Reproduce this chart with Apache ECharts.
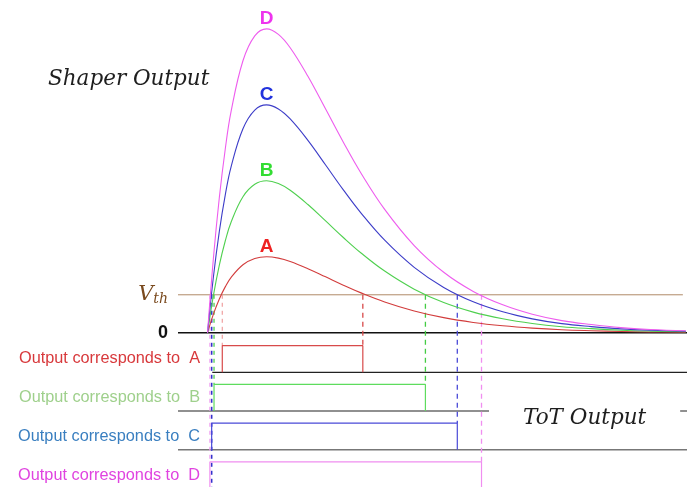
<!DOCTYPE html>
<html>
<head>
<meta charset="utf-8">
<script src="https://cdn.jsdelivr.net/npm/echarts@6/dist/echarts.min.js"></script>
<style>
  html, body { margin: 0; background: #fff; }
  #chart { width: 687px; height: 487px; }
</style>
</head>
<body>
<div id="chart"></div>
<script>
// shaper output, time in ns, amplitude in units of pulse A peak
const times = [0, 1, 2, 3, 4, 6, 8, 10, 12, 14, 17, 20, 23, 26, 30, 35, 40, 45, 50, 55, 60, 65, 70, 75, 81];
const shaperA = [0, 0.246, 0.445, 0.604, 0.729, 0.895, 0.977, 1.000, 0.982, 0.938, 0.844, 0.736, 0.627, 0.525, 0.406, 0.287, 0.199, 0.136, 0.092, 0.061, 0.040, 0.027, 0.017, 0.011, 0.007];
const shaperB = [0, 0.492, 0.890, 1.208, 1.458, 1.790, 1.954, 2.000, 1.964, 1.876, 1.688, 1.472, 1.254, 1.050, 0.812, 0.574, 0.398, 0.272, 0.184, 0.122, 0.080, 0.054, 0.034, 0.022, 0.013];
const shaperC = [0, 0.738, 1.335, 1.812, 2.187, 2.685, 2.931, 3.000, 2.946, 2.814, 2.532, 2.208, 1.881, 1.575, 1.218, 0.861, 0.597, 0.408, 0.276, 0.183, 0.120, 0.081, 0.051, 0.033, 0.020];
const shaperD = [0, 0.984, 1.780, 2.416, 2.916, 3.580, 3.908, 4.000, 3.928, 3.752, 3.376, 2.944, 2.508, 2.100, 1.624, 1.148, 0.796, 0.544, 0.368, 0.244, 0.160, 0.108, 0.068, 0.044, 0.027];
const shaperNames = ['A', 'B', 'C', 'D'];
const threshold = 0.5;

// ToT output: threshold crossings and the level of each digital row
const totRise = [2.5, 1.1, 0.7, 0.4];
const totFall = [26.3, 36.9, 42.3, 46.4];
const totBase = [-0.52, -1.03, -1.54, -2.05];
const totHigh = [-0.17, -0.68, -1.19, -1.70];
const totLabels = ['Output corresponds to  A', 'Output corresponds to  B', 'Output corresponds to  C', 'Output corresponds to  D'];
const totLabelLevels = [-0.345, -0.855, -1.365, -1.875];
const baseStart = [0.8, -5, -5];

const X_MIN = -5, X_MAX = 81.2, Y_MIN = -2.03, Y_MAX = 4.38;

const curveColors = ['#d23c3c', '#4fd04f', '#3c3cc8', '#ee5cee'];
const letterColors = ['#ee2222', '#33dd33', '#2233dd', '#ee33ee'];
const pulseColors = ['#d84a4a', '#5edc5e', '#4a4ad8', '#f08ef0'];
const labelColors = ['#d8393c', '#9fd08c', '#3a7fc0', '#e044e0'];
const riseDashColors = ['#f0a0a0', '#44cc44', '#3333cc', '#f0a0f0'];
const fallDashColors = ['#d84a4a', '#44cc44', '#4a4ad8', '#f08ef0'];

const chart = echarts.init(document.getElementById('chart'));

const shaperData = [shaperA, shaperB, shaperC, shaperD];
const series = [];

// zero and threshold lines
series.push({
  type: 'line', silent: true, symbol: 'none',
  data: [[X_MIN, 0], [X_MAX, 0]],
  lineStyle: { color: '#111', width: 1.3 }, z: 1
});
series.push({
  type: 'line', silent: true, symbol: 'none',
  data: [[X_MIN, threshold], [80.5, threshold]],
  lineStyle: { color: '#b08a68', width: 1 }, z: 1
});

// row baselines
baseStart.forEach((s, i) => {
  series.push({
    type: 'line', silent: true, symbol: 'none',
    data: [[s, totBase[i]], [X_MAX, totBase[i]]],
    lineStyle: { color: i === 2 ? '#777' : '#222', width: i === 2 ? 1.6 : 1.2 }, z: 1
  });
});

// dashed projections of the threshold crossings
shaperNames.forEach((n, i) => {
  series.push({
    type: 'line', silent: true, symbol: 'none',
    data: [[totRise[i], threshold], [totRise[i], i === 2 ? Y_MIN : totHigh[i]]],
    lineStyle: { color: riseDashColors[i], width: i === 2 ? 1.6 : 1.2, type: [4, 4] }, z: 2
  });
  series.push({
    type: 'line', silent: true, symbol: 'none',
    data: [[totFall[i], threshold], [totFall[i], totHigh[i]]],
    lineStyle: { color: fallDashColors[i], width: 1.3, type: [5, 4] }, z: 2
  });
});

// ToT pulses
shaperNames.forEach((n, i) => {
  series.push({
    type: 'line', silent: true, symbol: 'none',
    data: [[totRise[i], totBase[i]], [totRise[i], totHigh[i]], [totFall[i], totHigh[i]], [totFall[i], totBase[i]]],
    lineStyle: { color: pulseColors[i], width: 1.2 }, z: 3
  });
});

// shaper curves
shaperNames.forEach((n, i) => {
  series.push({
    name: n, type: 'line', silent: true, smooth: 0.4,
    showSymbol: false, symbol: 'none',
    data: times.map((t, k) => [t, shaperData[i][k]]),
    lineStyle: { color: curveColors[i], width: 1.1 }, z: 4,
    markPoint: {
      symbol: 'circle', symbolSize: 0, silent: true,
      data: [{ type: 'max', valueDim: 'y' }],
      label: {
        show: true, position: 'top', distance: 1,
        formatter: () => n,
        color: letterColors[i], fontSize: 19, fontWeight: 'bold',
        fontFamily: 'Liberation Sans, Arial, sans-serif'
      }
    }
  });
});

const serifItalic = { fontFamily: 'DejaVu Serif', fontStyle: 'italic', fontWeight: 'normal', fontSize: 21.5, color: '#1e1e1e' };

chart.setOption({
  animation: false,
  backgroundColor: '#fff',
  title: [
    { text: 'Shaper Output', left: 48, top: 68, padding: 0, textStyle: serifItalic },
    { text: 'ToT Output', left: 489, top: 404, padding: [3, 34, 3, 34], backgroundColor: '#fff', textStyle: serifItalic }
  ],
  grid: { left: 178, right: 0, top: 0, bottom: 0 },
  xAxis: { type: 'value', min: X_MIN, max: X_MAX, show: false },
  yAxis: [
    {
      type: 'value', min: Y_MIN, max: Y_MAX,
      axisLine: { show: false }, axisTick: { show: false }, splitLine: { show: false },
      axisLabel: {
        customValues: [0, threshold], margin: 10,
        formatter: v => (Math.abs(v) < 1e-6 ? '{z|0}' : '{v|V}{s|th}'),
        rich: {
          z: { fontSize: 18, fontWeight: 'bold', color: '#111', fontFamily: 'Liberation Sans, Arial' },
          v: { fontSize: 21, fontStyle: 'italic', color: '#7a4a1e', fontFamily: 'DejaVu Serif' },
          s: { fontSize: 14, fontStyle: 'italic', color: '#7a4a1e', fontFamily: 'DejaVu Serif', padding: [10, 0, 0, 0] }
        }
      }
    },
    {
      type: 'value', min: Y_MIN, max: Y_MAX, position: 'left', offset: -30,
      axisLine: { show: false }, axisTick: { show: false }, splitLine: { show: false },
      axisLabel: {
        customValues: totLabelLevels, margin: 8,
        formatter: v => {
          const i = totLabelLevels.findIndex(l => Math.abs(l - v) < 1e-6);
          return '{c' + i + '|' + totLabels[i] + '}';
        },
        rich: Object.fromEntries(labelColors.map((c, i) => ['c' + i, { color: c, fontSize: 16.3, fontFamily: 'Liberation Sans, Arial' }]))
      }
    }
  ],
  series: series
});
</script>
</body>
</html>
